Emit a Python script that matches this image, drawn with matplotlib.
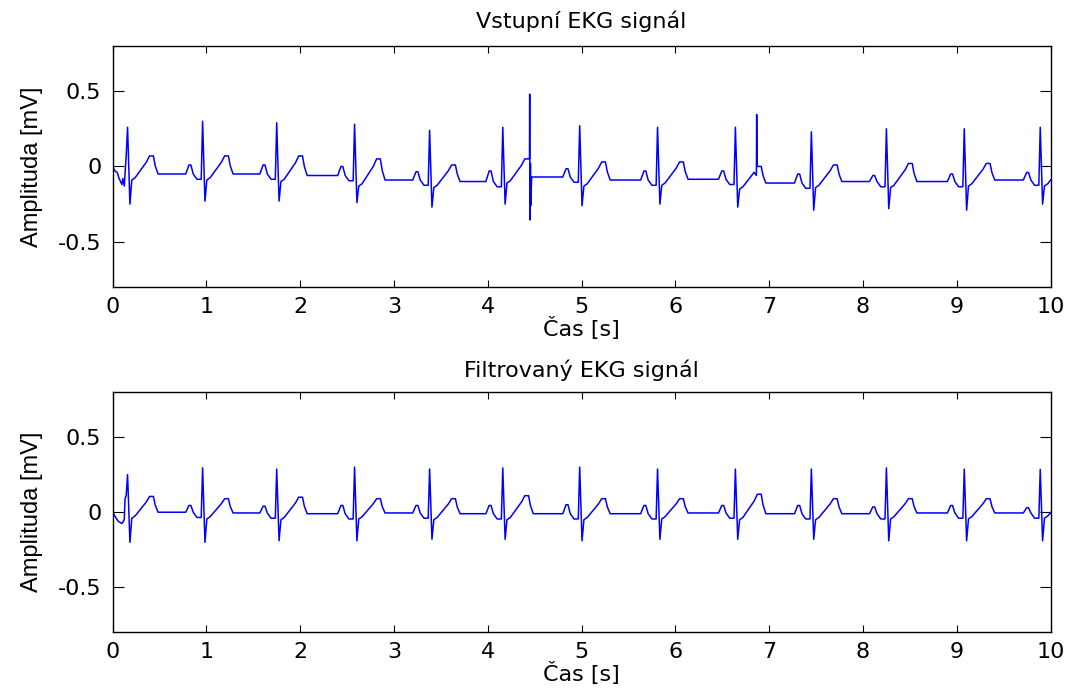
import matplotlib.pyplot as plt

plt.rcParams["font.family"] = ["DejaVu Sans"]
plt.rcParams["axes.unicode_minus"] = False

# ── Tvar jednoho srdečního cyklu (časy vůči R vlně, s) ───────────
p_off = [-0.18, -0.145, -0.125, -0.10]   # P vlna: začátek, vrchol, konec
p_shape = [0.0, 1.0, 1.0, 0.0]           # podíl výšky P vlny
q_off = [-0.06, -0.015]                  # pokles před QRS
st_off = [0.045, 0.08]                   # návrat po S vlně
t_off = [0.20, 0.235, 0.275, 0.295, 0.325]
t_shape = [0.65, 1.0, 1.0, 0.45, 0.0]    # podíl výšky T vlny nad izolinií
q_depth = -0.035
st_level = [-0.04, -0.025]

# ── Vstupní EKG (hodnoty v mV) ───────────────────────────────────
raw_head_t = [0.0, 0.025, 0.05, 0.07, 0.10, 0.11, 0.125, 0.145]
raw_head_v = [0.0, -0.03, -0.04, -0.08, -0.12, -0.08, -0.13, 0.07]
raw_r_t = [0.16, 0.96, 1.75, 2.58, 3.38, 4.16, 4.98, 5.81, 6.64, 7.45, 8.25, 9.08, 9.89]
raw_r = [0.26, 0.30, 0.29, 0.28, 0.24, 0.26, 0.27, 0.26, 0.26, 0.23, 0.25, 0.25, 0.26]
raw_s = [-0.25, -0.23, -0.23, -0.24, -0.27, -0.25, -0.26, -0.25, -0.27, -0.29, -0.28, -0.29, -0.25]
raw_base = [-0.05, -0.05, -0.06, -0.09, -0.10, -0.07, -0.09, -0.085, -0.11, -0.10, -0.10, -0.09, -0.09]
raw_t = [0.07, 0.07, 0.07, 0.05, 0.01, 0.05, 0.03, 0.03, 0.00, 0.01, 0.02, 0.02, 0.02]
raw_p = [0.0, 0.01, 0.01, 0.0, -0.035, -0.03, -0.015, -0.03, -0.03, -0.05, -0.06, -0.05, -0.04]
# rušivé špičky
raw_art_t = [4.445, 4.447, 4.450, 4.455, 4.458, 4.468, 6.864, 6.867, 6.871]
raw_art_v = [0.05, 0.48, -0.355, 0.02, -0.26, -0.07, -0.06, 0.344, 0.0]

# ── Filtrovaný EKG ──────────────────────────────────────────────
fil_head_t = [0.0, 0.03, 0.06, 0.10, 0.125, 0.133, 0.145]
fil_head_v = [0.0, -0.03, -0.06, -0.075, -0.05, 0.09, 0.11]
fil_r_t = [0.16, 0.96, 1.75, 2.58, 3.38, 4.16, 4.98, 5.81, 6.64, 7.45, 8.25, 9.08, 9.89]
fil_r = [0.25, 0.295, 0.287, 0.30, 0.287, 0.295, 0.30, 0.287, 0.287, 0.287, 0.295, 0.287, 0.285]
fil_s = [-0.20, -0.20, -0.19, -0.19, -0.18, -0.18, -0.19, -0.18, -0.18, -0.18, -0.19, -0.19, -0.19]
fil_base = [0.0, -0.005, -0.01, -0.005, -0.01, -0.01, -0.01, -0.005, -0.01, -0.01, -0.005, -0.005, 0.0]
fil_t = [0.105, 0.09, 0.10, 0.09, 0.09, 0.11, 0.09, 0.09, 0.12, 0.09, 0.09, 0.09, 0.09]
fil_p = [0.0, 0.045, 0.04, 0.045, 0.045, 0.045, 0.05, 0.045, 0.045, 0.045, 0.035, 0.045, 0.03]

xticks = list(range(0, 11))
yticks = [-0.5, 0, 0.5]


def sestav(head_t, head_v, r_t, r_a, s_a, base, t_a, p_a, art_t=(), art_v=()):
    """Složí body signálu z parametrů jednotlivých úderů."""
    body = list(zip(head_t, head_v))
    for k, tr in enumerate(r_t):
        b = base[k]
        if k > 0:
            b0 = base[k - 1]
            body += [(tr + o, b0 + f * (p_a[k] - b0)) for o, f in zip(p_off, p_shape)]
            body += [(tr + o, b0 + q_depth) for o in q_off]
        body += [(tr, r_a[k]), (tr + 0.025, s_a[k])]
        body += [(tr + o, b + l) for o, l in zip(st_off, st_level)]
        body += [(tr + o, b + f * (t_a[k] - b)) for o, f in zip(t_off, t_shape)]
    body += list(zip(art_t, art_v))
    body.sort()
    return [p[0] for p in body], [p[1] for p in body]


signaly = [
    ("Vstupní EKG signál",
     sestav(raw_head_t, raw_head_v, raw_r_t, raw_r, raw_s, raw_base, raw_t, raw_p,
            raw_art_t, raw_art_v), 13),
    ("Filtrovaný EKG signál",
     sestav(fil_head_t, fil_head_v, fil_r_t, fil_r, fil_s, fil_base, fil_t, fil_p), 11),
]

fig = plt.figure(figsize=(10.72, 6.95), dpi=100)
pozice = [[0.105, 0.587, 0.875, 0.347], [0.105, 0.090, 0.875, 0.346]]

for (nazev, (t, v), pad), pos in zip(signaly, pozice):
    ax = fig.add_axes(pos)
    ax.plot(t, v, color="#0000ff", linewidth=1.1)
    ax.set_xlim(0, 10)
    ax.set_ylim(-0.8, 0.8)
    ax.set_xticks(xticks)
    ax.set_xticklabels([str(x) for x in xticks])
    ax.set_yticks(yticks)
    ax.set_yticklabels(["-0.5", "0", "0.5"])
    ax.tick_params(axis="both", direction="in", top=True, right=True,
                   labelsize=16, width=0.8, colors="black")
    ax.tick_params(axis="x", length=5, pad=7)
    ax.tick_params(axis="y", length=8, pad=8)
    for sp in ax.spines.values():
        sp.set_linewidth(1.0)
    ax.set_title(nazev, fontsize=16, pad=pad)
    ax.set_xlabel("Čas [s]", fontsize=16, labelpad=0)
    ax.set_ylabel("Amplituda [mV]", fontsize=17, family=["Liberation Sans"])
    ax.yaxis.set_label_coords(-0.074, 0.5)

fig.savefig("out.png", dpi=100)
